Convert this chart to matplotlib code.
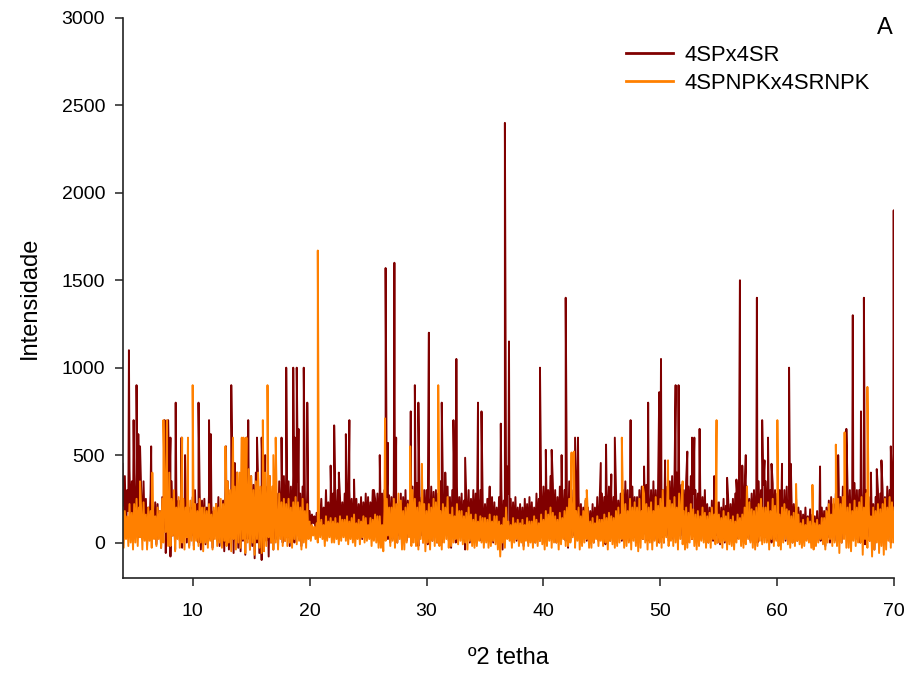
import numpy as np
import matplotlib
matplotlib.use("Agg")
import matplotlib.pyplot as plt

plt.rcParams['font.family'] = ['Liberation Sans', 'DejaVu Sans']

# ---------------- data ----------------
series_names = ["4SPx4SR", "4SPNPKx4SRNPK"]
x_start, x_step = 4.0, 0.1  # background trace sampled every 0.1 degrees

red_bg = [
    450, 120, 380, 60, 300, 180, 420, 90, 350, 40,      # 4
    400, 150, 320, 30, 380, 100, 280, 20, 350, 60,      # 5
    250, -20, 200, 80, 280, 10, 180, 40, 230, -10,      # 6
    220, 30, 180, -30, 260, 60, 320, -60, 380, 20,      # 7
    300, -80, 350, 40, 260, -40, 300, 80, 240, 10,      # 8
    280, -30, 220, 60, 300, 0, 250, -20, 200, 40,       # 9
    260, -20, 300, 50, 220, 0, 280, -40, 240, 30,       # 10
    250, -10, 200, 60, 280, 20, 230, -30, 180, 40,      # 11
    220, 10, 260, -20, 180, 30, 240, -50, 300, 0,       # 12
    350, -40, 280, 20, 380, -60, 320, 0, 400, -30,      # 13
    300, -50, 380, 10, 420, -70, 350, 20, 300, -40,     # 14
    380, -20, 330, -90, 400, 0, 350, -60, 300, -100,    # 15
    350, -30, 400, 10, 320, -80, 380, 0, 260, -40,      # 16
    300, 20, 280, -30, 350, 40, 320, 0, 380, 10,        # 17
    400, 30, 350, -20, 320, 40, 380, 0, 300, 60,        # 18
    350, 20, 280, -20, 320, 40, 260, 10, 300, 60,       # 19
    180, 90, 160, 110, 150, 80, 170, 100, 160, 120,     # 20
    250, 60, 200, 40, 300, 80, 230, 50, 280, 90,        # 21
    280, 30, 250, 60, 300, 20, 260, 70, 230, 40,        # 22
    280, 50, 260, 30, 300, 70, 250, 20, 280, 60,        # 23
    250, 40, 220, 70, 260, 20, 230, 60, 280, 30,        # 24
    260, 40, 230, 70, 300, 20, 250, 60, 280, 10,        # 25
    320, 40, 280, 10, 300, 60, 250, 20, 270, 0,         # 26
    260, 20, 300, 50, 240, 0, 220, 40, 280, -20,        # 27
    260, 40, 300, 10, 240, 50, 280, 0, 320, 30,         # 28
    300, 20, 340, -20, 280, 40, 260, 0, 300, 30,        # 29
    300, -10, 260, 40, 320, 10, 280, 50, 300, 0,        # 30
    280, 40, 350, 0, 300, 30, 260, 60, 320, 10,         # 31
    260, -30, 300, 40, 280, 0, 320, 20, 260, 50,        # 32
    280, 10, 240, -40, 260, 30, 300, 0, 250, 40,        # 33
    300, 20, 280, 0, 260, 50, 300, 10, 240, 30,         # 34
    220, 40, 250, 10, 200, 50, 260, 0, 230, 30,         # 35
    200, 0, 260, 40, 300, -40, 240, 20, 280, 50,        # 36
    280, 40, 250, 0, 230, 30, 260, 10, 200, 40,         # 37
    220, 30, 200, -20, 250, 40, 220, 0, 260, 20,        # 38
    230, 40, 200, 0, 280, 30, 250, 10, 300, 40,         # 39
    320, 20, 350, 40, 300, 60, 380, 20, 340, 50,        # 40
    300, 0, 260, 30, 320, 20, 280, 50, 300, 10,         # 41
    280, -30, 350, 10, 300, 40, 260, 0, 320, 20,        # 42
    260, 30, 220, 0, 200, 40, 240, 10, 200, 30,         # 43
    180, 20, 220, 0, 200, 30, 260, 10, 230, 40,         # 44
    280, 30, 260, -10, 300, 40, 320, 10, 280, 50,       # 45
    260, 20, 300, 0, 240, 40, 280, 10, 300, 30,         # 46
    350, 40, 300, 10, 280, 50, 320, 30, 260, 0,         # 47
    260, 0, 300, 40, 320, 20, 280, 50, 330, 10,         # 48
    280, 40, 300, 0, 350, 20, 300, 40, 320, 0,          # 49
    350, 30, 300, 0, 380, 40, 320, 10, 350, 50,         # 50
    380, 20, 350, 60, 400, 10, 380, 40, 330, 20,        # 51
    300, 30, 350, 0, 320, 50, 380, 20, 280, 40,         # 52
    300, 40, 280, 10, 320, 20, 260, 50, 300, 10,        # 53
    220, 0, 200, 30, 240, 10, 260, 40, 230, 0,          # 54
    230, -10, 200, 20, 250, 0, 210, 40, 240, 10,        # 55
    220, 30, 250, 0, 280, 20, 240, 40, 260, 10,         # 56
    300, 20, 280, 0, 320, 30, 250, 10, 280, 40,         # 57
    300, 20, 320, 0, 350, 40, 300, 10, 330, 30,         # 58
    350, 10, 380, 30, 300, 0, 340, 40, 300, 20,         # 59
    280, 0, 300, 30, 260, 50, 300, 10, 320, 40,         # 60
    250, 20, 280, 0, 220, 30, 250, 10, 200, 30,         # 61
    180, 10, 160, 40, 200, 20, 150, 30, 190, 0,         # 62
    160, 20, 150, 0, 180, 30, 140, 10, 200, 20,         # 63
    180, -20, 200, 30, 240, 0, 260, 40, 220, 10,        # 64
    280, 10, 300, 40, 260, 0, 320, 30, 280, 50,         # 65
    320, 40, 300, 0, 280, 50, 340, 20, 300, 30,         # 66
    300, 0, 320, 40, 280, -10, 300, 30, 260, 10,        # 67
    250, 30, 220, -40, 260, 20, 300, 0, 280, 40,        # 68
    300, 20, 260, 10, 320, 40, 300, 0, 350, 30,         # 69
    280,                                                # 70
]

orange_bg = [
    200, -30, 180, 20, 150, -20, 220, 0, 170, -40,      # 4
    220, 0, 250, -20, 200, 30, 180, -40, 230, 10,       # 5
    160, -40, 200, 10, 180, -30, 220, 20, 150, -20,     # 6
    200, 20, 180, -30, 250, 0, 350, 60, 300, -20,       # 7
    400, -20, 250, 40, 300, -50, 200, 20, 260, -30,     # 8
    220, 0, 250, -40, 200, 30, 180, -30, 240, 10,       # 9
    200, -40, 220, 10, 180, -20, 250, 0, 200, -50,      # 10
    200, 0, 180, -30, 220, 10, 160, -40, 200, 20,       # 11
    220, -20, 200, 0, 250, -30, 220, 10, 280, -20,      # 12
    350, 0, 300, -50, 380, 20, 320, -40, 400, 0,        # 13
    400, -30, 350, 20, 300, -60, 380, 0, 420, -40,      # 14
    380, 0, 300, -70, 350, 20, 400, -30, 320, -60,      # 15
    350, -50, 400, -20, 300, 30, 380, 0, 320, -40,      # 16
    250, 0, 200, -40, 280, 20, 230, -20, 250, 10,       # 17
    220, -20, 250, 0, 200, -30, 230, 20, 260, -10,      # 18
    230, 10, 200, -40, 250, 0, 180, -30, 220, 20,       # 19
    120, 10, 100, 40, 90, 20, 110, 0, 130, 30,          # 20
    130, 20, 100, -20, 150, 10, 120, 30, 140, 0,        # 21
    120, 0, 140, 20, 110, -10, 150, 10, 130, 30,        # 22
    130, 10, 150, -10, 120, 20, 140, 0, 160, -20,       # 23
    110, 20, 130, -10, 120, 30, 150, 0, 140, 10,        # 24
    100, 20, 140, -20, 130, 10, 160, 0, 150, -30,       # 25
    150, -30, 100, -50, 180, 10, 250, 40, 200, -20,     # 26
    200, 10, 250, -30, 220, 0, 280, 20, 240, -40,       # 27
    180, -40, 200, 0, 220, 30, 250, -20, 300, 0,        # 28
    250, -20, 200, -40, 230, 20, 260, 0, 220, -50,      # 29
    180, 0, 220, -40, 200, 10, 250, -20, 230, 0,        # 30
    250, -20, 180, -40, 220, 0, 200, 20, 260, -30,      # 31
    160, -20, 200, 0, 150, 20, 220, -10, 180, 10,       # 32
    180, -10, 150, 0, 170, -40, 200, 10, 160, -20,      # 33
    130, -30, 160, -20, 120, 10, 150, 0, 140, -30,      # 34
    140, 0, 130, -30, 160, -20, 120, 10, 150, -10,      # 35
    150, -40, 120, -80, 100, 0, 140, -30, 200, 20,      # 36
    120, 10, 100, -30, 140, 0, 110, 20, 130, -20,       # 37
    110, 0, 130, -40, 100, 10, 140, -20, 120, 0,        # 38
    120, -30, 150, 0, 130, -20, 110, 10, 160, -10,      # 39
    130, -40, 180, -20, 160, 10, 200, -30, 170, 0,      # 40
    150, 0, 130, -40, 170, -10, 140, 20, 180, -20,      # 41
    200, -20, 250, 0, 280, 30, 240, -30, 180, 10,       # 42
    200, -40, 150, -20, 180, 0, 250, 20, 160, -30,      # 43
    120, -30, 140, 0, 110, 20, 150, -20, 130, 10,       # 44
    130, -20, 160, 0, 140, -40, 170, 10, 150, -10,      # 45
    140, -30, 180, -20, 200, 0, 160, 20, 220, -30,      # 46
    220, -20, 180, 0, 250, -40, 200, 10, 230, -20,      # 47
    200, -50, 250, -30, 180, 20, 280, 0, 220, -40,      # 48
    200, 0, 230, -40, 180, 10, 260, -20, 210, 0,        # 49
    250, -30, 300, 0, 200, 30, 280, -20, 240, 10,       # 50
    220, -20, 260, 0, 200, -40, 280, 20, 230, -10,      # 51
    180, -40, 200, -30, 170, 0, 220, 20, 190, -20,      # 52
    160, -40, 180, -20, 150, 10, 200, 0, 170, -30,      # 53
    150, 0, 170, -30, 200, 20, 160, -10, 230, 0,        # 54
    160, 0, 140, -30, 180, 10, 150, -40, 170, -10,      # 55
    130, -20, 150, -40, 120, 0, 160, 20, 140, -20,      # 56
    160, -30, 200, -10, 180, 20, 230, 0, 190, -30,      # 57
    180, -40, 200, -20, 220, 10, 250, -10, 200, 0,      # 58
    200, 0, 230, -40, 180, 20, 250, -20, 210, 10,       # 59
    180, -20, 160, -40, 200, 0, 220, 20, 190, -10,      # 60
    180, -30, 150, 0, 170, -20, 140, 10, 160, -10,      # 61
    110, -30, 130, -20, 100, 10, 140, 0, 120, -30,      # 62
    120, -40, 110, -20, 130, 0, 100, 20, 140, -10,      # 63
    140, -40, 180, 0, 220, 20, 160, -20, 250, 0,        # 64
    200, -20, 250, -60, 220, 0, 260, 20, 230, -30,      # 65
    200, -30, 220, -50, 180, 10, 240, -20, 200, 0,      # 66
    230, 0, 260, -70, 200, 20, 280, -30, 250, 10,       # 67
    150, -80, 200, -40, 180, 0, 220, -60, 190, -20,     # 68
    220, -70, 250, -40, 200, 10, 260, -30, 230, 0,      # 69
    200,                                                # 70
]

red_peak_x = [4.55, 4.95, 5.2, 5.35, 5.5, 6.45, 7.6, 7.9, 8.1, 8.55, 9.05, 9.35,
              10.5, 11.4, 11.55, 12.85, 13.3, 13.6, 14.6, 14.75, 15.5, 15.9, 16.2,
              17.6, 18.0, 18.6, 18.75, 18.9, 19.05, 19.5, 19.8, 21.8, 22.1, 22.5,
              23.1, 23.4, 23.8, 25.5, 26.0, 26.5, 26.7, 27.25, 27.4, 28.65, 29.0,
              29.3, 30.2, 30.6, 31.3, 31.6, 32.3, 32.55, 33.3, 34.4, 34.7, 35.4,
              36.35, 36.7, 36.9, 37.05, 39.7, 40.2, 40.7, 41.55, 41.9, 42.7, 42.95,
              44.9, 45.35, 45.8, 46.1, 47.45, 48.6, 48.95, 49.9, 50.05, 50.4, 51.3,
              51.55, 52.3, 52.7, 52.9, 53.35, 54.6, 55.7, 56.5, 56.8, 57.0, 57.3,
              58.25, 58.7, 58.9, 59.2, 59.5, 60.4, 61.0, 61.15, 63.65, 65.2, 65.9,
              66.45, 67.15, 67.4, 68.0, 68.5, 68.9, 69.7, 69.95]
red_peak_y = [1100, 700, 900, 620, 550, 550, 700, 700, 600, 800, 600, 500,
              800, 700, 620, 550, 900, 455, 600, 700, 600, 600, 500,
              600, 1000, 1000, 600, 1000, 650, 1000, 800, 440, 670, 400,
              620, 700, 360, 300, 500, 1570, 570, 1600, 600, 750, 900,
              800, 1200, 290, 800, 400, 700, 1050, 485, 800, 750, 320,
              680, 2400, 435, 1150, 1000, 530, 530, 500, 1400, 600, 600,
              455, 560, 390, 600, 700, 435, 800, 860, 1050, 470, 900,
              900, 520, 600, 600, 650, 380, 370, 360, 1500, 440, 500,
              1400, 700, 470, 600, 450, 450, 1000, 450, 435, 500, 650,
              1300, 750, 1400, 400, 420, 470, 550, 1900]

orange_peak_x = [5.5, 6.55, 7.5, 7.8, 9.1, 9.6, 10.0, 12.8, 13.45, 14.2, 14.35, 14.6,
                 16.0, 16.4, 16.9, 17.1, 20.7, 26.45, 28.6, 29.6, 31.0, 42.4, 42.6,
                 43.7, 46.7, 48.5, 50.65, 51.9, 54.8, 57.4, 60.0, 61.6, 63.0, 65.0,
                 65.75, 67.7]
orange_peak_y = [350, 400, 700, 700, 600, 600, 900, 550, 600, 600, 600, 600,
                 700, 900, 500, 600, 1670, 710, 550, 450, 900, 515, 520,
                 300, 600, 320, 470, 350, 700, 320, 700, 335, 330, 560,
                 630, 890]

x_ticks = [10, 20, 30, 40, 50, 60, 70]
y_ticks = [0, 500, 1000, 1500, 2000, 2500, 3000]
x_label = "º2 tetha"
y_label = "Intensidade"
panel_label = "A"
colors = ["#800000", "#FF8000"]


def build(bg, px, py):
    bx = x_start + x_step * np.arange(len(bg))
    xs = np.concatenate([bx, np.asarray(px, float)])
    ys = np.concatenate([np.asarray(bg, float), np.asarray(py, float)])
    order = np.argsort(xs, kind="stable")
    return xs[order], ys[order]


rx, ry = build(red_bg, red_peak_x, red_peak_y)
ox, oy = build(orange_bg, orange_peak_x, orange_peak_y)

# ---------------- figure ----------------
fig = plt.figure(figsize=(9.13, 6.77), dpi=100)
ax = fig.add_axes([122.5 / 913, 1 - 577.5 / 677, (894.3 - 122.5) / 913, (577.5 - 18) / 677])

l1, = ax.plot(rx, ry, color=colors[0], lw=1.4, label=series_names[0])
l2, = ax.plot(ox, oy, color=colors[1], lw=1.4, label=series_names[1])

ax.set_xlim(4, 70)
ax.set_ylim(-200, 3000)
ax.set_xticks(x_ticks)
ax.set_yticks(y_ticks)
ax.spines['top'].set_visible(False)
ax.spines['right'].set_visible(False)
for s in ('left', 'bottom'):
    ax.spines[s].set_linewidth(1.2)
    ax.spines[s].set_color('#222222')
ax.tick_params(axis='both', direction='out', length=5.5, width=1.1, labelsize=14,
               colors='#222222', labelcolor='black')
ax.tick_params(axis='x', pad=12.5)
ax.tick_params(axis='y', pad=7.0)

ax.set_xlabel(x_label, fontsize=17, labelpad=20)
ax.set_ylabel(y_label, fontsize=17, labelpad=15)

leg = fig.legend(handles=[l1, l2], loc='upper left',
                 bbox_to_anchor=(626 / 913, 1 - 45 / 677),
                 frameon=False, fontsize=15.8, handlelength=2.15, handletextpad=0.5,
                 labelspacing=0.32, borderpad=0, borderaxespad=0)
for h in leg.legend_handles:
    h.set_linewidth(2.0)

fig.text(885 / 913, 1 - 28 / 677, panel_label, fontsize=17, ha='center', va='center')

fig.savefig("out.png", dpi=100)
